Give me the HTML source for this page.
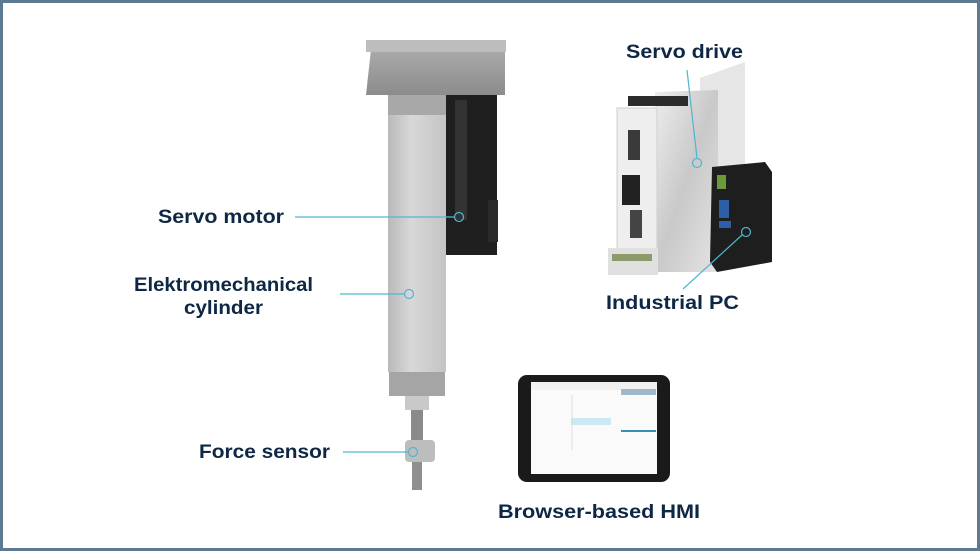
<!DOCTYPE html>
<html><head><meta charset="utf-8"><style>
html,body{margin:0;padding:0;background:#fff}
svg{display:block}
text{font-family:"Liberation Sans",sans-serif;font-weight:bold;font-size:19px;fill:#0d2744}
</style></head><body>
<svg width="980" height="551" viewBox="0 0 980 551" xmlns="http://www.w3.org/2000/svg">
<defs>
<linearGradient id="gb" x1="0" x2="1"><stop offset="0" stop-color="#b9b9b9"/><stop offset="0.4" stop-color="#d8d8d8"/><stop offset="1" stop-color="#c4c4c4"/></linearGradient>
<linearGradient id="gt" x1="0" y1="0" x2="0" y2="1"><stop offset="0" stop-color="#b0b0b0"/><stop offset="1" stop-color="#8c8c8c"/></linearGradient>
<linearGradient id="gs" x1="0" y1="0" x2="1" y2="1"><stop offset="0" stop-color="#ededed"/><stop offset="0.5" stop-color="#c9c9c9"/><stop offset="1" stop-color="#e4e4e4"/></linearGradient>
</defs>
<rect x="1.5" y="1.5" width="977" height="548" fill="#fff" stroke="#5e7a93" stroke-width="3"/>

<!-- cylinder -->
<rect x="445" y="92" width="52" height="163" fill="#1f1f1f"/>
<rect x="455" y="100" width="12" height="120" fill="#333"/>
<rect x="488" y="200" width="10" height="42" fill="#2a2a2a"/>
<polygon points="372,40 505,40 505,95 366,95" fill="url(#gt)"/>
<rect x="366" y="40" width="140" height="12" fill="#bdbdbd"/>
<rect x="388" y="95" width="58" height="20" fill="#a8a8a8"/>
<rect x="388" y="115" width="58" height="257" fill="url(#gb)"/>
<rect x="389" y="372" width="56" height="24" fill="#a5a5a5"/>
<rect x="405" y="396" width="24" height="14" fill="#c9c9c9"/>
<rect x="411" y="410" width="12" height="30" fill="#8a8a8a"/>
<rect x="405" y="440" width="30" height="22" rx="4" fill="#bdbdbd"/>
<rect x="412" y="462" width="10" height="28" fill="#8f8f8f"/>

<!-- servo drive -->
<polygon points="700,78 745,62 745,255 700,262" fill="#e6e6e6"/>
<polygon points="655,92 718,90 718,272 655,272" fill="url(#gs)"/>
<rect x="617" y="108" width="40" height="165" fill="#eeeeee" stroke="#cfcfcf"/>
<rect x="628" y="130" width="12" height="30" fill="#3a3a3a"/>
<rect x="622" y="175" width="18" height="30" fill="#222"/>
<rect x="630" y="210" width="12" height="28" fill="#444"/>
<rect x="608" y="248" width="50" height="27" fill="#e0e0e0"/>
<rect x="612" y="254" width="40" height="7" fill="#8a9a6a"/>
<rect x="628" y="96" width="60" height="10" fill="#2b2b2b"/>
<!-- IPC -->
<polygon points="712,167 765,162 772,172 772,262 717,272 710,262" fill="#1e1e1e"/>
<rect x="717" y="175" width="9" height="14" fill="#6a9a3a"/>
<rect x="719" y="200" width="10" height="18" fill="#2c5fa8"/>
<rect x="719" y="221" width="12" height="7" fill="#2c5fa8"/>

<!-- tablet -->
<rect x="518" y="375" width="152" height="107" rx="9" fill="#1a1a1a"/>
<rect x="531" y="382" width="126" height="92" fill="#fafafa"/>
<rect x="531" y="382" width="126" height="8" fill="#f0f0f0"/>
<rect x="571" y="418" width="40" height="7" fill="#cdeaf4"/>
<rect x="621" y="389" width="35" height="6" fill="#9fb7c7"/>
<rect x="621" y="430" width="35" height="2" fill="#3a8fb0"/>
<line x1="572" y1="395" x2="572" y2="450" stroke="#ccc" stroke-width="0.6"/>

<!-- connectors -->
<g stroke="#4fb6d2" stroke-width="1.2" fill="none">
<line x1="295" y1="217" x2="455" y2="217"/><circle cx="459" cy="217" r="4.5"/>
<line x1="340" y1="294" x2="404" y2="294"/><circle cx="409" cy="294" r="4.5"/>
<line x1="343" y1="452" x2="408" y2="452"/><circle cx="413" cy="452" r="4.5"/>
<line x1="687" y1="70" x2="697" y2="158"/><circle cx="697" cy="163" r="4.5"/>
<line x1="683" y1="289" x2="742" y2="235"/><circle cx="746" cy="232" r="4.5"/>
</g>

<text x="158" y="223" textLength="126" lengthAdjust="spacingAndGlyphs">Servo motor</text>
<text x="134" y="291" textLength="179" lengthAdjust="spacingAndGlyphs">Elektromechanical</text>
<text x="184" y="314" textLength="79" lengthAdjust="spacingAndGlyphs">cylinder</text>
<text x="199" y="458" textLength="131" lengthAdjust="spacingAndGlyphs">Force sensor</text>
<text x="626" y="58" textLength="117" lengthAdjust="spacingAndGlyphs">Servo drive</text>
<text x="606" y="309" textLength="133" lengthAdjust="spacingAndGlyphs">Industrial PC</text>
<text x="498" y="518" textLength="202" lengthAdjust="spacingAndGlyphs">Browser-based HMI</text>
</svg>
</body></html>
